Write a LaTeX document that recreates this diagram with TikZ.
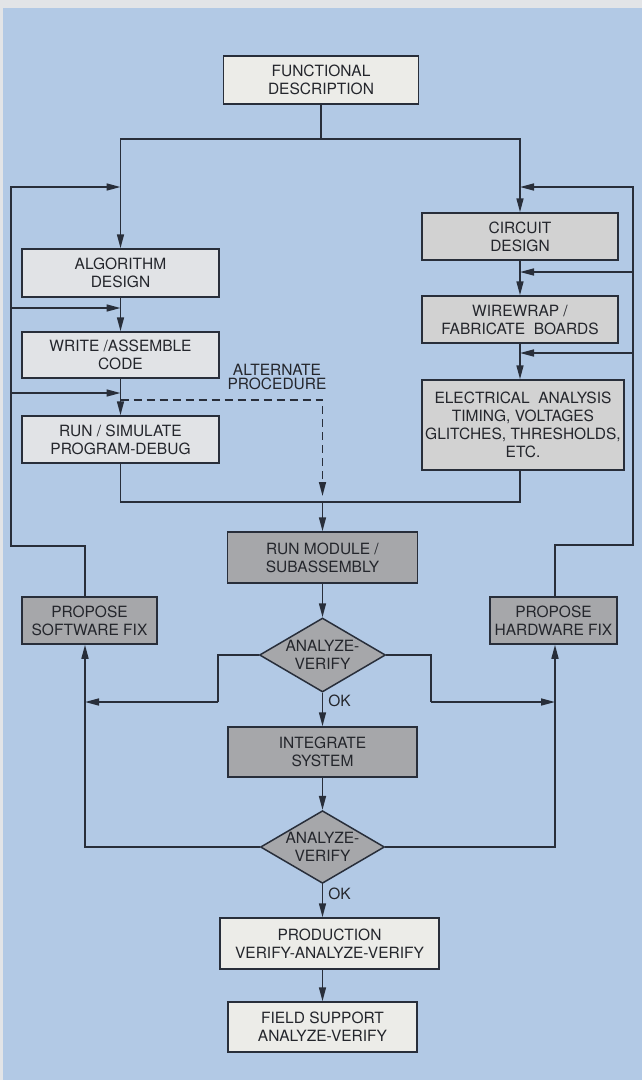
\documentclass[tikz,border=0pt]{standalone}
\usepackage{fontspec}
\setmainfont{TeX Gyre Heros}
\usetikzlibrary{shapes.geometric,arrows.meta,calc}
\definecolor{bgblue}{RGB}{178,201,229}
\definecolor{edgec}{RGB}{226,228,231}
\definecolor{inkc}{RGB}{40,46,58}
\definecolor{txtc}{RGB}{36,38,44}
\definecolor{boxlight}{RGB}{236,236,232}
\definecolor{boxsoft}{RGB}{225,227,230}
\definecolor{boxmid}{RGB}{210,210,210}
\definecolor{boxdark}{RGB}{166,167,170}
\begin{document}
\begin{tikzpicture}[x=1pt,y=-1pt,
  box/.style={draw=inkc, line width=1.5pt, rectangle, inner sep=0pt, align=center,
    text=txtc, font=\fontsize{15.5}{18}\selectfont},
  dia/.style={box, diamond, aspect=1.7, fill=boxdark},
  lbl/.style={text=txtc, font=\fontsize{15.5}{14.5}\selectfont, inner sep=0pt, align=center},
  link/.style={draw=inkc, line width=1.6pt},
  arr/.style={-{Triangle[length=14pt,width=7pt]}},
  ]
\useasboundingbox (0,0) rectangle (642,1080);
\fill[edgec] (0,0) rectangle (642,1080);
\fill[bgblue] (3,8) rectangle (642,1080);

% nodes
\node[box, fill=boxlight, minimum width=195pt, minimum height=48pt] (fd) at (321,80) {FUNCTIONAL\\DESCRIPTION};
\node[box, fill=boxsoft, minimum width=197pt, minimum height=48pt] (alg) at (120.5,273) {ALGORITHM\\DESIGN};
\node[box, fill=boxsoft, minimum width=197pt, minimum height=46pt] (wri) at (120.5,355) {WRITE /ASSEMBLE\\CODE};
\node[box, fill=boxsoft, minimum width=197pt, minimum height=47pt] (run) at (120.5,439.5) {RUN / SIMULATE\\PROGRAM-DEBUG};
\node[box, fill=boxmid, minimum width=196pt, minimum height=47pt] (cir) at (520,236.5) {CIRCUIT\\DESIGN};
\node[box, fill=boxmid, minimum width=196pt, minimum height=47pt] (wir) at (520,319.5) {WIREWRAP /\\FABRICATE\ \ BOARDS};
\node[box, fill=boxmid, minimum width=202pt, minimum height=90pt] (ele) at (523,425) {ELECTRICAL\ \ ANALYSIS\\TIMING, VOLTAGES\\GLITCHES, THRESHOLDS,\\ETC.};
\node[box, fill=boxdark, minimum width=190pt, minimum height=51pt] (rm) at (322.5,557.5) {RUN MODULE /\\SUBASSEMBLY};
\node[dia, minimum width=126pt, minimum height=74pt] (d1) at (322.5,655) {ANALYZE-\\VERIFY};
\node[box, fill=boxdark, minimum width=189pt, minimum height=50pt] (intg) at (322.5,752) {INTEGRATE\\SYSTEM};
\node[dia, minimum width=124pt, minimum height=72pt] (d2) at (322.5,847) {ANALYZE-\\VERIFY};
\node[box, fill=boxdark, minimum width=135pt, minimum height=47pt] (psw) at (89.5,620.5) {PROPOSE\\SOFTWARE FIX};
\node[box, fill=boxdark, minimum width=127pt, minimum height=47pt] (phw) at (553.5,620.5) {PROPOSE\\HARDWARE FIX};
\node[box, fill=boxlight, minimum width=219pt, minimum height=51pt] (prod) at (329.5,943.5) {PRODUCTION\\VERIFY-ANALYZE-VERIFY};
\node[box, fill=boxlight, minimum width=189pt, minimum height=50pt] (fs) at (322.5,1027) {FIELD SUPPORT\\ANALYZE-VERIFY};
\node[lbl] (alt) at (277,377) {ALTERNATE\\PROCEDURE};

% junction coordinates
\coordinate (split) at (321,139);
\coordinate (merge) at (322.5,502);
\coordinate (altstart) at (120.5,400);
\coordinate (altend) at (322.5,496);
\coordinate (lloopA) at (11,546);
\coordinate (lloopB) at (11,187);
\coordinate (lin1) at (120.5,187);
\coordinate (lout2) at (11,308);
\coordinate (lin2) at (120.5,308);
\coordinate (lout3) at (11,393);
\coordinate (lin3) at (120.5,393);
\coordinate (rloopA) at (633,545);
\coordinate (rloopB) at (633,187);
\coordinate (rin1) at (520,187);
\coordinate (rout2) at (633,272);
\coordinate (rin2) at (520,272);
\coordinate (rout3) at (633,353);
\coordinate (rin3) at (520,353);
\coordinate (lb1) at (218,702);
\coordinate (lj1) at (85,702);
\coordinate (rb1) at (431,702);
\coordinate (rj1) at (555,702);

% connectors
\draw[link] (fd.south) -- (split);
\draw[link,arr] (split) -| (alg.north);
\draw[link,arr] (split) -| (cir.north);
\draw[link,arr] (alg.south) -- (wri.north);
\draw[link,arr] (wri.south) -- (run.north);
\draw[link,arr] (cir.south) -- (wir.north);
\draw[link,arr] (wir.south) -- (wir.south |- ele.north);
\draw[link] (run.south) |- (merge);
\draw[link] (wir.south |- ele.south) |- (merge);
\draw[link,arr] (merge) -- (rm.north);
\draw[link,dashed,dash pattern=on 8pt off 5pt,arr] (altstart) -| (altend);
\draw[link,arr] (rm.south) -- (d1.north);
\draw[link,arr] (d1.south) -- node[lbl, pos=0.25, right=5pt] {OK} (intg.north);
\draw[link] (d1.west) -| (lb1);
\draw[link,arr] (lb1) -- (lj1);
\draw[link] (d1.east) -| (rb1);
\draw[link,arr] (rb1) -- (rj1);
\draw[link,arr] (intg.south) -- (d2.north);
\draw[link,arr] (d2.west) -| ([xshift=-4.5pt]psw.south);
\draw[link,arr] (d2.east) -| ([xshift=1.5pt]phw.south);
\draw[link,arr] (d2.south) -- node[lbl, pos=0.28, right=5pt] {OK} (d2.south |- prod.north);
\draw[link,arr] (d2.south |- prod.south) -- (fs.north);
% software fix loop
\draw[link,arr] ([xshift=-4.5pt]psw.north) |- (lloopA) -- (lloopB) -- (lin1);
\draw[link,arr] (lout2) -- (lin2);
\draw[link,arr] (lout3) -- (lin3);
% hardware fix loop
\draw[link,arr] ([xshift=1.5pt]phw.north) |- (rloopA) -- (rloopB) -- (rin1);
\draw[link,arr] (rout2) -- (rin2);
\draw[link,arr] (rout3) -- (rin3);
\end{tikzpicture}
\end{document}
